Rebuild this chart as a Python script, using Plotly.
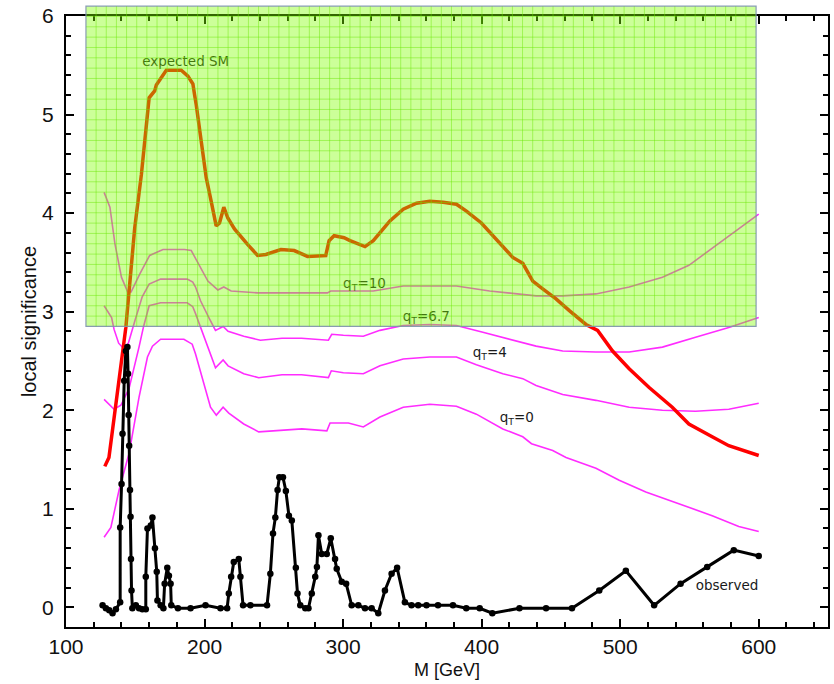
import plotly.graph_objects as go

# ---- observed local significance ----
obs_m = [126.4, 128.8, 131.2, 133.6, 136.0, 139.1, 139.1, 140.1, 140.8, 142.0, 143.2, 144.3,
         144.8, 145.2, 145.6, 146.2, 146.6, 146.9, 147.3, 147.9, 150.4, 152.7, 155.1, 157.6,
         157.6, 158.8, 161.2, 162.4, 164.2, 165.5, 166.0, 168.3, 170.3, 171.2, 173.1, 174.3,
         175.5, 176.0, 180.8, 189.9, 200.7, 211.5, 216.3, 217.5, 219.2, 221.1, 224.7, 225.9,
         227.8, 233.1, 245.1, 247.5, 249.4, 251.1, 252.7, 254.0, 256.6, 258.7, 260.9, 263.0,
         265.9, 267.1, 269.1, 272.7, 275.0, 277.4, 279.9, 281.1, 282.2, 284.6, 288.2, 291.1,
         294.2, 295.4, 299.0, 302.2, 306.2, 311.0, 315.8, 320.6, 325.4, 330.2, 335.0, 339.0,
         344.6, 349.4, 354.2, 360.2, 368.5, 379.3, 388.9, 398.6, 407.7, 427.3, 446.5, 465.2,
         484.9, 504.1, 524.5, 543.6, 562.8, 582.0, 600.0]
obs_z = [0.02, -0.01, -0.03, -0.06, -0.02, 0.05, 0.81, 1.25, 1.76, 2.30, 2.60, 2.64,
         2.37, 1.95, 1.64, 1.19, 0.92, 0.49, 0.17, -0.01, 0.02, -0.01, -0.02, -0.02,
         0.31, 0.80, 0.83, 0.91, 0.60, 0.36, 0.07, 0.02, -0.01, 0.24, 0.40, 0.32,
         0.24, 0.02, -0.01, -0.01, 0.02, -0.01, -0.01, 0.14, 0.31, 0.46, 0.49, 0.31,
         0.02, 0.02, 0.02, 0.34, 0.75, 0.91, 1.19, 1.32, 1.32, 1.18, 0.93, 0.88,
         0.40, 0.14, 0.02, -0.01, -0.01, 0.14, 0.31, 0.41, 0.73, 0.54, 0.54, 0.70,
         0.49, 0.39, 0.26, 0.24, 0.02, 0.02, -0.01, -0.01, -0.06, 0.17, 0.34, 0.40,
         0.05, 0.02, 0.02, 0.02, 0.02, 0.02, -0.01, -0.01, -0.06, -0.01, -0.01, -0.01,
         0.17, 0.37, 0.02, 0.24, 0.41, 0.58, 0.52]

# ---- expected significance for the SM Higgs ----
sm_m = [128, 131, 143.2, 149.6, 154.4, 160, 164, 165.2, 172.4, 183.2, 188, 191.6, 192.8, 194,
        197.6, 201.2, 204.8, 208.4, 210.8, 213.9, 216.8, 221.6, 231.2, 238.3, 244.3, 255.1,
        264.7, 274.3, 287.5, 289.9, 293.5, 300.7, 305, 315.8, 321.8, 333.8, 343.4, 353,
        362.6, 372.2, 381.8, 389, 399.8, 408.1, 415.3, 422.5, 429.7, 436.9, 444.1, 453.7,
        463.3, 475.3, 483.7, 494.5, 506.5, 520.9, 537.6, 549.6, 566.4, 578.4, 600]
sm_z = [1.43, 1.52, 2.84, 3.85, 4.39, 5.17, 5.24, 5.30, 5.45, 5.45, 5.39, 5.31, 5.20, 5.10,
        4.73, 4.36, 4.12, 3.87, 3.90, 4.06, 3.95, 3.84, 3.68, 3.57, 3.58, 3.63,
        3.62, 3.56, 3.57, 3.72, 3.77, 3.75, 3.72, 3.66, 3.72, 3.92, 4.04, 4.10,
        4.12, 4.11, 4.09, 4.02, 3.90, 3.77, 3.65, 3.55, 3.49, 3.31, 3.23, 3.13,
        3.01, 2.87, 2.81, 2.60, 2.42, 2.23, 2.03, 1.86, 1.73, 1.64, 1.54]

# ---- expected significance for different qT hypotheses ----
q0_m = [127.5, 132.4, 138.3, 145.5, 152.7, 158.8, 162.4, 168.3, 185.1, 191.1, 193.5, 198.3,
        204.3, 208.5, 213.4, 217.5, 228.3, 239.1, 255.9, 270.3, 288.3, 290.6, 303.8, 314.6,
        326.6, 343.4, 362.6, 381.8, 396.2, 415.3, 429.7, 436.0, 451.3, 460.9, 482.5, 499.3,
        518.5, 542.4, 566.4, 585.6, 600]
q0_z = [0.71, 0.81, 1.19, 1.56, 2.13, 2.54, 2.65, 2.72, 2.72, 2.67, 2.57, 2.33,
        2.03, 1.95, 2.03, 1.97, 1.86, 1.78, 1.80, 1.81, 1.79, 1.87, 1.87, 1.83,
        1.93, 2.03, 2.06, 2.04, 1.96, 1.81, 1.73, 1.66, 1.59, 1.52, 1.41, 1.29,
        1.17, 1.05, 0.93, 0.82, 0.77]

q4_m = [127.5, 134.7, 139.6, 145.5, 152.7, 156, 160, 168.3, 187.5, 191.5, 193.5, 197.1,
        203.1, 207.9, 213.4, 217, 228.3, 239.1, 255.9, 270, 289.4, 291.5, 300.2, 314.6,
        326.6, 343.4, 362.6, 381.8, 396.2, 415.3, 429.7, 439.3, 458.5, 482.5, 506.5, 530.5,
        554.4, 578.4, 600]
q4_z = [2.11, 2.01, 2.05, 2.22, 2.64, 2.85, 3.06, 3.09, 3.09, 3.05, 2.98, 2.84,
        2.60, 2.43, 2.51, 2.45, 2.37, 2.33, 2.36, 2.36, 2.33, 2.40, 2.38, 2.37,
        2.45, 2.52, 2.54, 2.54, 2.46, 2.37, 2.32, 2.25, 2.16, 2.10, 2.03, 2.00,
        1.99, 2.01, 2.07]

q67_m = [127.5, 132.9, 134.7, 138, 141.9, 145, 150, 155, 160, 168.3, 187.5, 191.5, 193.5,
         197.1, 203.1, 207.9, 213.4, 217, 228.3, 240.3, 255.9, 270, 289.4, 291.8, 300.2,
         314.6, 326.6, 343.4, 362.6, 381.8, 400.9, 420.1, 439.3, 458.5, 482.5, 506.5, 530.5,
         554.4, 578.4, 600]
q67_z = [3.06, 2.94, 2.82, 2.68, 2.62, 2.68, 2.92, 3.15, 3.28, 3.33, 3.33, 3.30, 3.25,
         3.11, 2.94, 2.81, 2.85, 2.80, 2.75, 2.71, 2.73, 2.73, 2.71, 2.77, 2.76,
         2.75, 2.81, 2.86, 2.87, 2.86, 2.79, 2.72, 2.65, 2.60, 2.59, 2.59, 2.64,
         2.74, 2.84, 2.94]

q10_m = [127.5, 131.7, 135.3, 140, 144.5, 147, 153.2, 160.4, 170, 185.6, 190.4, 195.2, 202.4,
         209.6, 213.9, 219.2, 238.3, 260, 288.7, 291.1, 321.8, 343.4, 381.8, 405.8, 439.3,
         458.5, 482.5, 506.5, 530.5, 549.6, 573.6, 600]
q10_z = [4.21, 4.06, 3.69, 3.35, 3.20, 3.20, 3.38, 3.57, 3.63, 3.63, 3.62, 3.50, 3.31,
         3.22, 3.25, 3.21, 3.19, 3.19, 3.19, 3.21, 3.21, 3.26, 3.26, 3.21, 3.16,
         3.16, 3.18, 3.25, 3.35, 3.47, 3.72, 3.99]

# curve labels: (text, left x, y)
curve_labels = [
    ("expected SM", 155.0, 5.53),
    ("q<sub>T</sub>=10", 300.0, 3.27),
    ("q<sub>T</sub>=6.7", 343.0, 2.94),
    ("q<sub>T</sub>=4", 393.5, 2.57),
    ("q<sub>T</sub>=0", 413.0, 1.91),
    ("observed", 554.5, 0.21),
]

x_range = [100, 650]
y_range = [-0.2, 6]

# highlighted discovery region
box_m = [114.4, 598.1]
box_z = [2.85, 6.1]

MAGENTA = "#ff2cff"

fig = go.Figure()

for xm, yz in [(q0_m, q0_z), (q4_m, q4_z), (q67_m, q67_z), (q10_m, q10_z)]:
    fig.add_trace(go.Scatter(x=xm, y=yz, mode="lines",
                             line=dict(color=MAGENTA, width=1.6), hoverinfo="skip"))

fig.add_trace(go.Scatter(x=sm_m, y=sm_z, mode="lines",
                         line=dict(color="#ff0000", width=3.5), hoverinfo="skip"))

fig.add_trace(go.Scatter(x=obs_m, y=obs_z, mode="lines+markers",
                         line=dict(color="black", width=3),
                         marker=dict(color="black", size=6.5), hoverinfo="skip"))

fig.add_trace(go.Scatter(
    x=[c[1] for c in curve_labels], y=[c[2] for c in curve_labels],
    text=[c[0] for c in curve_labels], mode="text", textposition="middle right",
    textfont=dict(family="DejaVu Sans", size=13.5, color="#1a1a1a"), hoverinfo="skip"))


def to_paper(v):
    return (v - y_range[0]) / (y_range[1] - y_range[0])


py0, py1 = to_paper(box_z[0]), to_paper(box_z[1])

# translucent green box with its cell grid
nx, ny = 66, 31
dx = (box_m[1] - box_m[0]) / nx
dy = (py1 - py0) / ny
grid_path = ""
for i in range(1, nx):
    gx = box_m[0] + i * dx
    grid_path += f"M{gx:.3f},{py0:.5f}L{gx:.3f},{py1:.5f}"
for j in range(1, ny):
    gy = py0 + j * dy
    grid_path += f"M{box_m[0]:.3f},{gy:.5f}L{box_m[1]:.3f},{gy:.5f}"

fig.add_shape(type="rect", xref="x", yref="paper", x0=box_m[0], x1=box_m[1], y0=py0, y1=py1,
              fillcolor="rgba(128,255,0,0.4)", line=dict(color="rgba(125,145,175,0.9)", width=1.2),
              layer="above")
fig.add_shape(type="path", xref="x", yref="paper", path=grid_path,
              line=dict(color="rgba(105,230,0,0.45)", width=1), layer="above")

tickfont = dict(family="Liberation Sans, Arial", size=21, color="#111")
axis_common = dict(
    showline=True, linecolor="black", linewidth=2, mirror="ticks",
    ticks="inside", ticklen=8, tickwidth=2, tickcolor="black",
    showgrid=False, zeroline=False, tickfont=tickfont,
)
minor_common = dict(ticks="inside", ticklen=5, tickwidth=1.5, tickcolor="black", showgrid=False)

fig.update_layout(
    width=834, height=684,
    margin=dict(l=66, r=4, t=15, b=57),
    paper_bgcolor="white", plot_bgcolor="white",
    showlegend=False,
    xaxis=dict(range=x_range, tick0=100, dtick=100,
               minor=dict(dtick=20, **minor_common),
               title=dict(text="M [GeV]", font=dict(family="Liberation Sans, Arial", size=18, color="#111"),
                          standoff=6),
               **axis_common),
    yaxis=dict(range=y_range, tick0=0, dtick=1,
               minor=dict(dtick=0.2, **minor_common),
               title=dict(text="local significance",
                          font=dict(family="Liberation Sans, Arial", size=20, color="#111"),
                          standoff=0),
               ticklabelstandoff=6,
               **axis_common),
)

fig.write_html("out.html")
